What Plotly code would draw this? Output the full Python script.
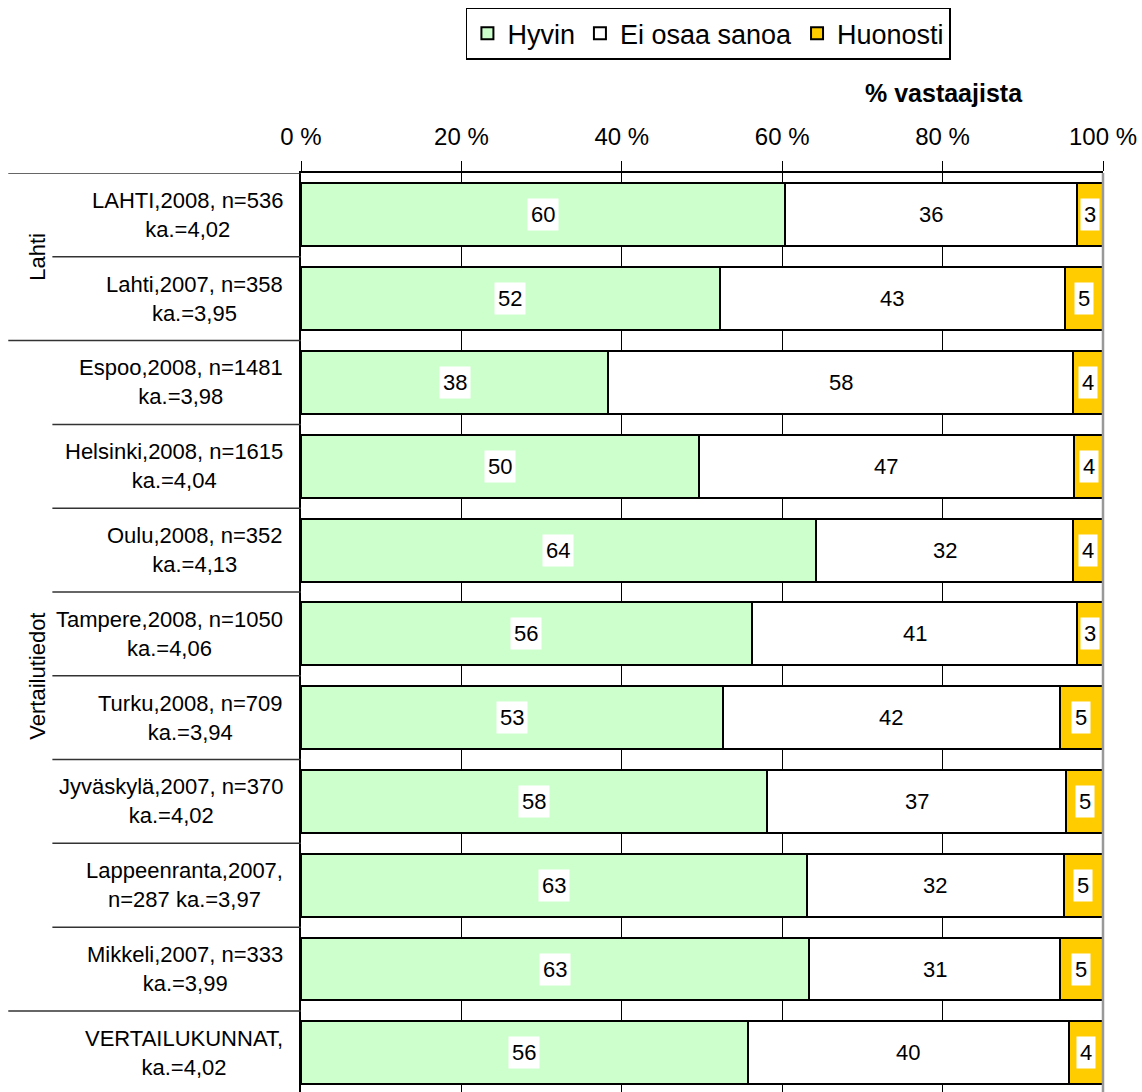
import plotly.graph_objects as go

# Category labels (top to bottom)
categories = [
    "LAHTI,2008, n=536<br>ka.=4,02",
    "Lahti,2007, n=358<br>ka.=3,95",
    "Espoo,2008, n=1481<br>ka.=3,98",
    "Helsinki,2008, n=1615<br>ka.=4,04",
    "Oulu,2008, n=352<br>ka.=4,13",
    "Tampere,2008, n=1050<br>ka.=4,06",
    "Turku,2008, n=709<br>ka.=3,94",
    "Jyväskylä,2007, n=370<br>ka.=4,02",
    "Lappeenranta,2007,<br>n=287 ka.=3,97",
    "Mikkeli,2007, n=333<br>ka.=3,99",
    "VERTAILUKUNNAT,<br>ka.=4,02",
]

hyvin = [60.4, 52.2, 38.3, 49.6, 64.2, 56.2, 52.6, 58.1, 63.1, 63.4, 55.7]
ei_osaa = [36.4, 43.0, 58.0, 46.8, 32.1, 40.6, 42.0, 37.3, 32.0, 31.2, 40.0]
huonosti = [3.2, 4.8, 3.7, 3.6, 3.7, 3.2, 5.4, 4.6, 4.9, 5.4, 4.3]

groups = [("Lahti", 0, 1), ("Vertailutiedot", 2, 9)]
x_ticks = [0, 20, 40, 60, 80, 100]

series = [
    ("Hyvin", hyvin, "#CCFFCC"),
    ("Ei osaa sanoa", ei_osaa, "#FFFFFF"),
    ("Huonosti", huonosti, "#FFCC00"),
]

FONT = "Liberation Sans, Arial, sans-serif"
ypos = list(range(len(categories)))

fig = go.Figure()
for name, vals, color in series:
    fig.add_trace(go.Bar(
        y=ypos, x=vals, name=name, orientation="h",
        marker=dict(color=color, line=dict(color="black", width=2)),
        width=0.75, hoverinfo="x+name",
    ))

annotations = []
# value labels in white boxes, centered on each segment
for i in ypos:
    left = 0
    for name, vals, color in series:
        v = vals[i]
        annotations.append(dict(
            x=left + v / 2, y=i, xref="x", yref="y",
            text=f"{v:.0f}", showarrow=False,
            font=dict(size=22, color="black", family=FONT),
            bgcolor="white", borderpad=3,
        ))
        left += v

# category labels
for i, lab in enumerate(categories):
    annotations.append(dict(
        x=-0.02, y=i, xref="paper", yref="y", text=lab,
        showarrow=False, xanchor="right", align="center",
        font=dict(size=22, color="black", family=FONT),
    ))

# group labels
for name, a, b in groups:
    annotations.append(dict(
        x=-0.328, y=(a + b) / 2, xref="paper", yref="y", text=name,
        showarrow=False, textangle=-90, xanchor="center", yanchor="middle",
        font=dict(size=22, color="black", family=FONT),
    ))

annotations.append(dict(
    x=0.903, y=1.087, xref="paper", yref="paper", text="<b>% vastaajista</b>",
    showarrow=False, xanchor="right", yanchor="middle",
    font=dict(size=25, color="black", family=FONT),
))

shapes = []
group_edges = {-0.5} | {b + 0.5 for _, _, b in groups}
for k in range(len(categories)):
    yb = k - 0.5
    x0 = -0.365 if yb in group_edges else -0.31
    shapes.append(dict(type="line", xref="paper", yref="y", x0=x0, x1=0,
                       y0=yb, y1=yb, line=dict(color="#333333", width=1.5)))
shapes.append(dict(type="line", xref="paper", yref="paper", x0=1, x1=1,
                   y0=0, y1=1, line=dict(color="#999999", width=2.5)))

fig.update_layout(
    width=1142, height=1092,
    margin=dict(l=301, r=39, t=173, b=0),
    barmode="stack",
    plot_bgcolor="white", paper_bgcolor="white",
    font=dict(family=FONT, color="black"),
    showlegend=True,
    legend=dict(
        orientation="h", x=0.508, xanchor="center", y=1.18, yanchor="top",
        bordercolor="black", borderwidth=1.5,
        font=dict(size=27, family=FONT), traceorder="normal",
        itemwidth=30,
    ),
    xaxis=dict(
        side="top", range=[0, 100], tickvals=x_ticks,
        ticktext=[f"{t} %" for t in x_ticks],
        tickfont=dict(size=24, family=FONT),
        ticks="outside", ticklen=10, tickcolor="black", ticklabelstandoff=6,
        showgrid=True, gridcolor="black", gridwidth=1,
        showline=True, linecolor="black", linewidth=2,
        zeroline=False, fixedrange=True, automargin=False,
    ),
    yaxis=dict(
        range=[10.467, -0.5], showticklabels=False, showgrid=False,
        showline=True, linecolor="black", linewidth=2, zeroline=False,
        ticks="", fixedrange=True, automargin=False,
    ),
    annotations=annotations,
    shapes=shapes,
)

fig.write_html(
    "out.html",
    config={"displayModeBar": False},
    post_script="document.body.style.margin='0';document.body.style.overflow='hidden';",
)
